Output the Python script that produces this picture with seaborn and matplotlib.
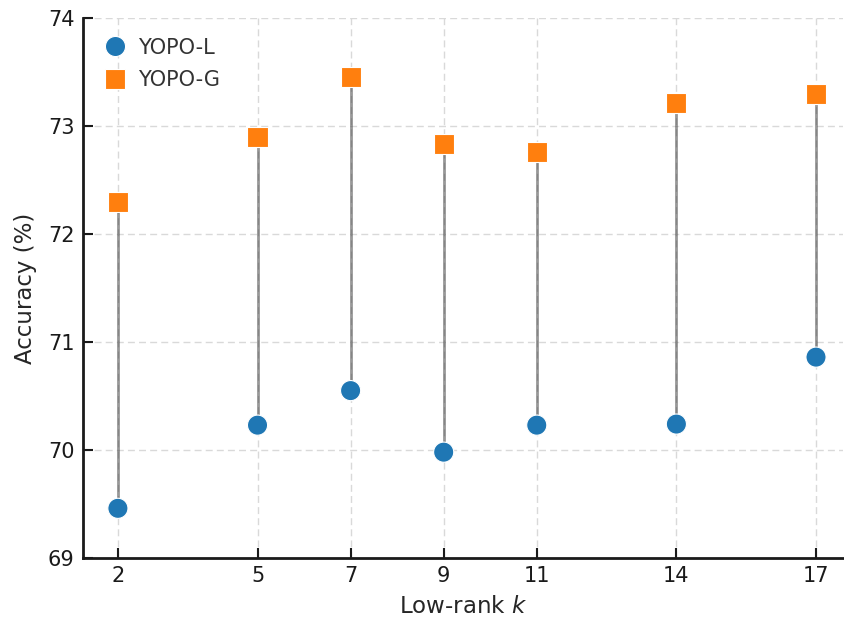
import matplotlib
matplotlib.use("Agg")
import matplotlib.pyplot as plt
import seaborn as sns
import pandas as pd

ranks = [2, 5, 7, 9, 11, 14, 17]
yopo_l = [69.46, 70.23, 70.55, 69.98, 70.23, 70.24, 70.86]
yopo_g = [72.30, 72.90, 73.45, 72.83, 72.76, 73.21, 73.30]
y_ticks = [69, 70, 71, 72, 73, 74]

sns.set_theme(style="white")
plt.rcParams['font.family'] = ['DejaVu Sans']

df = pd.DataFrame({
    "k": ranks * 2,
    "acc": yopo_l + yopo_g,
    "method": ["YOPO-L"] * len(ranks) + ["YOPO-G"] * len(ranks),
})

fig = plt.figure(figsize=(8.44, 6.2), dpi=100)
ax = fig.add_axes([83/844, 62/620, 760/844, 540/620])

ax.grid(True, linestyle=(0, (5, 3)), color="#d9d9d9", linewidth=1.0)
ax.set_axisbelow(True)

ax.vlines(ranks, yopo_l, yopo_g, color="#333333", alpha=0.5, linewidth=2.0, zorder=2)

sns.scatterplot(data=df, x="k", y="acc", hue="method", style="method",
                markers={"YOPO-L": "o", "YOPO-G": "s"},
                palette={"YOPO-L": "#1f77b4", "YOPO-G": "#ff7f0e"},
                s=210, edgecolor="white", linewidth=0.8, ax=ax, zorder=3)

ax.set_xlim(1.25, 17.58)
ax.set_ylim(69, 74)
ax.set_xticks(ranks)
ax.set_yticks(y_ticks)
ax.set_xlabel("Low-rank $k$", fontsize=16.5, color="#262626", labelpad=6)
ax.set_ylabel("Accuracy (%)", fontsize=16.5, color="#262626", labelpad=8)
ax.tick_params(axis="both", direction="in", length=7, width=1.5, labelsize=15,
               colors="#1a1a1a", left=True, bottom=True, pad=6)
for sp in ["top", "right"]:
    ax.spines[sp].set_visible(False)
for sp in ["left", "bottom"]:
    ax.spines[sp].set_color("#1a1a1a")
    ax.spines[sp].set_linewidth(2.0)

leg = ax.legend(loc="upper left", frameon=False, fontsize=15, markerscale=1.0,
                handlelength=1.2, handletextpad=0.5, borderaxespad=0.55,
                labelspacing=0.6)
for t in leg.get_texts():
    t.set_color("#333333")

fig.savefig("out.png", dpi=100)
